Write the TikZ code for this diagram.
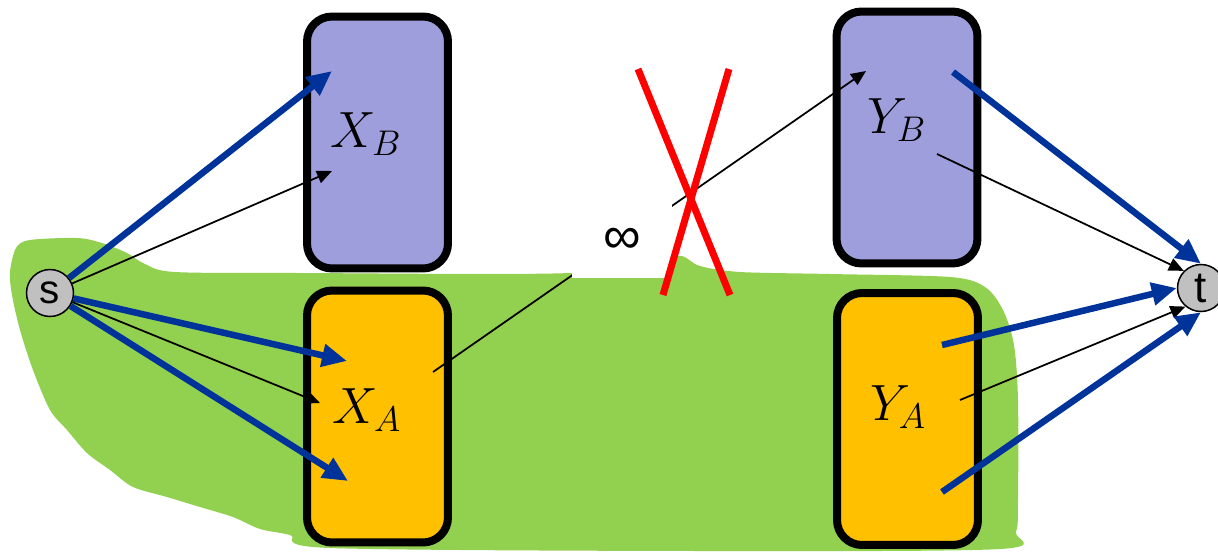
\RequirePackage{fix-cm}
\documentclass[tikz,border=0pt]{standalone}
\usepackage{fontspec}
\setsansfont{Liberation Sans}
\usetikzlibrary{arrows.meta, calc}

\definecolor{partblue}{HTML}{9E9EDC}
\definecolor{partorange}{HTML}{FFC000}
\definecolor{cutgreen}{HTML}{92D050}
\definecolor{flowblue}{HTML}{003399}
\definecolor{vertexgrey}{HTML}{C0C0C0}

\begin{document}
\begin{tikzpicture}[
    x=0.02cm, y=-0.02cm,
    part/.style={
        rectangle,
        rounded corners=0.5cm,
        draw,
        line width=0.16cm,
        minimum width=2.82cm,
        minimum height=5.04cm,
        inner sep=0pt
    },
    partlabel/.style={
        inner sep=0pt,
        font=\fontsize{29}{34}\selectfont
    },
    vertex/.style={
        circle,
        draw,
        fill=vertexgrey,
        line width=0.03cm,
        minimum size=0.94cm,
        inner sep=0pt,
        font=\sffamily\fontsize{23}{27}\selectfont
    },
    flow/.style={
        -{Triangle[length=0.5cm, width=0.44cm]},
        draw=flowblue,
        line width=0.13cm
    },
    edge/.style={
        -{Triangle[length=0.3cm, width=0.26cm]},
        line width=0.035cm
    },
    cross/.style={
        draw=red,
        line width=0.14cm
    }
]
\useasboundingbox (0,0) rectangle (1218,552);

% Green side of the cut
\fill[cutgreen] plot[smooth cycle, tension=0.5] coordinates {
    (10,272) (16,248) (30,240) (77,238) (102,243) (127,253) (145,264)
    (175,272) (300,273) (570,273) (660,258) (682,256) (700,266) (740,272)
    (830,274) (950,277) (985,287) (1003,310) (1014,345) (1018,400)
    (1018,500) (1016,532) (1000,549) (700,551) (330,548) (290,535)
    (260,529) (233,517) (200,507) (167,497) (133,487) (110,470) (87,453)
    (67,430) (50,410) (33,370) (20,330) (12,295)};

% Nodes
\node[part, fill=partblue] (XB) at (377.5,142.5) {};
\node[part, fill=partorange] (XA) at (377.5,416.5) {};
\node[part, fill=partblue] (YB) at (907,137.5) {};
\node[part, fill=partorange] (YA) at (907.5,419) {};

\node[partlabel] (XBlabel) at (366,134) {$X_B$};
\node[partlabel] (XAlabel) at (367,410) {$X_A$};
\node[partlabel] (YBlabel) at (897,120) {$Y_B$};
\node[partlabel] (YAlabel) at (898,407) {$Y_A$};

\node[vertex] (s) at (50,293) {s};
\node[vertex, font=\sffamily\fontsize{25}{29}\selectfont] (t) at (1201,288) {t};

% Arrow ends inside the boxes
\coordinate (xbTop) at (332,71);
\coordinate (xbMid) at (332,171);
\coordinate (xaTop) at (347,361);
\coordinate (xaMid) at (320,403);
\coordinate (xaLow) at (348,481);
\coordinate (xaOut) at (433,372);
\coordinate (ybIn) at (866,71);
\coordinate (ybTop) at (953,72);
\coordinate (ybMid) at (937,154);
\coordinate (yaTop) at (942,345);
\coordinate (yaMid) at (960,400);
\coordinate (yaLow) at (942,492);

% Arrows from s
\draw[flow] (s) -- (xbTop);
\draw[edge] (s) -- (xbMid);
\draw[flow] (s) -- (xaTop);
\draw[edge] (s) -- (xaMid);
\draw[flow] (s) -- (xaLow);

% Infinite edge
\draw[edge] (xaOut) -- (ybIn)
    node[pos=0.437, fill=white, minimum width=2cm, minimum height=1.52cm,
         text depth=0pt, font=\sffamily\fontsize{30}{34}\selectfont] (inf) {∞};

% Arrows into t
\draw[flow] (ybTop) -- (t.north);
\draw[edge] (ybMid) -- (t.135);
\draw[flow] (yaTop) -- (t.west);
\draw[edge] (yaMid) -- (t.-130);
\draw[flow] (yaLow) -- (t.south);

% Red cross
\draw[cross] (638,69) -- (730,295);
\draw[cross] (729,69) -- (663,295);

\end{tikzpicture}
\end{document}
